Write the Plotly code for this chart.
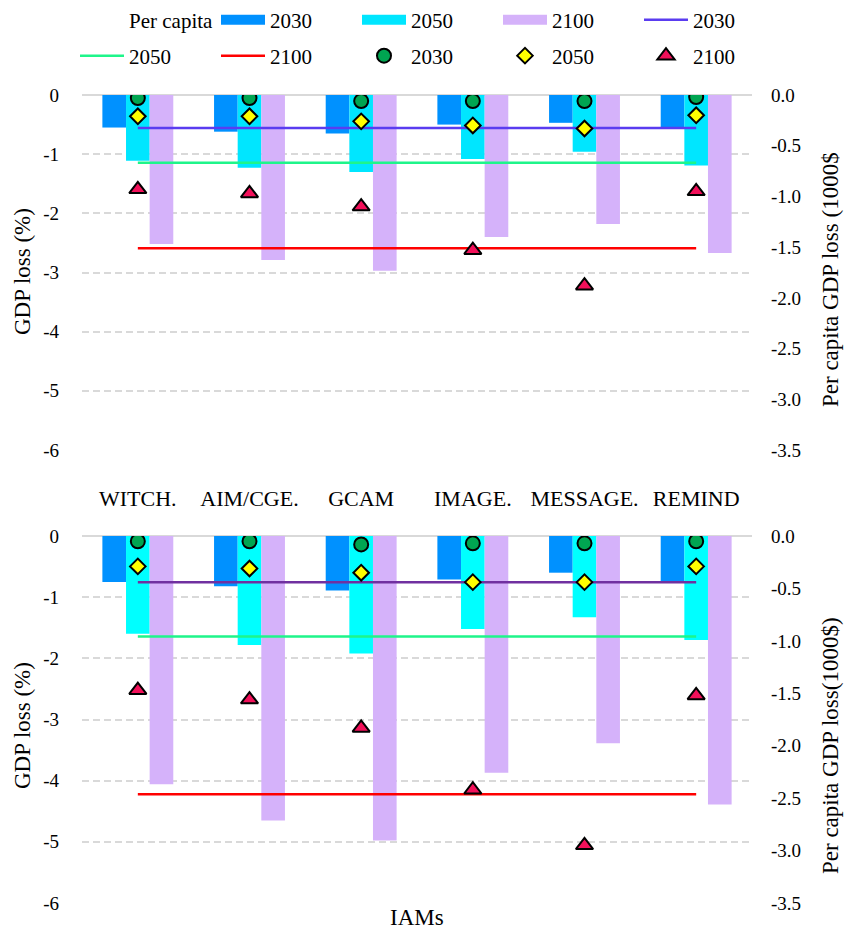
import numpy as np
import plotly.graph_objects as go

# ---------------- data ----------------
models = ["WITCH.", "AIM/CGE.", "GCAM", "IMAGE.", "MESSAGE.", "REMIND"]

# top panel: GDP loss (%)
top_gdp_2030 = [-0.55, -0.62, -0.65, -0.50, -0.47, -0.56]
top_gdp_2050 = [-1.11, -1.23, -1.30, -1.08, -0.96, -1.19]
top_gdp_2100 = [-2.52, -2.79, -2.97, -2.40, -2.18, -2.67]
# top panel: per capita GDP loss (1000$)
top_pc_2030 = [-0.03, -0.03, -0.06, -0.06, -0.06, -0.02]
top_pc_2050 = [-0.21, -0.21, -0.26, -0.30, -0.33, -0.20]
top_pc_2100 = [-0.93, -0.97, -1.10, -1.53, -1.88, -0.95]

# bottom panel
bot_gdp_2030 = [-0.75, -0.82, -0.89, -0.71, -0.60, -0.76]
bot_gdp_2050 = [-1.60, -1.78, -1.92, -1.52, -1.33, -1.70]
bot_gdp_2100 = [-4.06, -4.65, -4.98, -3.87, -3.39, -4.39]
bot_pc_2030 = [-0.05, -0.05, -0.08, -0.07, -0.07, -0.05]
bot_pc_2050 = [-0.29, -0.31, -0.35, -0.44, -0.44, -0.29]
bot_pc_2100 = [-1.47, -1.56, -1.83, -2.42, -2.95, -1.52]

left_ticks = [0, -1, -2, -3, -4, -5, -6]
right_ticks = [0.0, -0.5, -1.0, -1.5, -2.0, -2.5, -3.0, -3.5]
left_ticktext = [str(v) for v in left_ticks]
right_ticktext = [f"{v:.1f}" for v in right_ticks]

# ---------------- style ----------------
FONT = "Liberation Serif, Times New Roman, serif"
C_BAR30 = "#0091FF"
C_BAR50_TOP = "#00E6FF"
C_BAR50_BOT = "#00FFFF"
C_BAR100 = "#D5B2FA"
C_L30_TOP = "#5A3CF0"
C_L30_BOT = "#7030A0"
C_L50 = "#1EF58A"
C_L100 = "#FF0000"
C_CIRC = "#00A551"
C_DIAM = "#FFFF00"
C_TRI = "#F2105A"

fig = go.Figure()

# legend-only entries (row 1)
fig.add_trace(go.Scatter(x=[None], y=[None], mode="lines", name="Per capita",
                         line=dict(color="rgba(0,0,0,0)", width=1),
                         legend="legend", hoverinfo="skip"))
for nm, col, grp in [("2030", C_BAR30, "b30"), ("2050", C_BAR50_TOP, "b50"), ("2100", C_BAR100, "b100")]:
    fig.add_trace(go.Scatter(x=[None], y=[None], mode="lines", name=nm,
                             line=dict(color=col, width=10), legendgroup=grp,
                             legend="legend", hoverinfo="skip"))

def add_panel(xa, ya, ya2, g30, g50, g100, p30, p50, p100, c50, c30line, show):
    fig.add_trace(go.Bar(x=models, y=g30, marker=dict(color=C_BAR30, line=dict(width=0)),
                         name="2030", legendgroup="b30", showlegend=False, xaxis=xa, yaxis=ya))
    fig.add_trace(go.Bar(x=models, y=g50, marker=dict(color=c50, line=dict(width=0)),
                         name="2050", legendgroup="b50", showlegend=False, xaxis=xa, yaxis=ya))
    fig.add_trace(go.Bar(x=models, y=g100, marker=dict(color=C_BAR100, line=dict(width=0)),
                         name="2100", legendgroup="b100", showlegend=False, xaxis=xa, yaxis=ya))
    # mean lines
    fig.add_trace(go.Scatter(x=models, y=[np.mean(g30)] * len(models), mode="lines",
                             line=dict(color=c30line, width=2.5), name="2030",
                             legend="legend", legendgroup="l30", showlegend=show,
                             xaxis=xa, yaxis=ya))
    fig.add_trace(go.Scatter(x=models, y=[np.mean(g50)] * len(models), mode="lines",
                             line=dict(color=C_L50, width=2.5), name="2050",
                             legend="legend2", legendgroup="l50", showlegend=show,
                             xaxis=xa, yaxis=ya))
    fig.add_trace(go.Scatter(x=models, y=[np.mean(g100)] * len(models), mode="lines",
                             line=dict(color=C_L100, width=2.5), name="2100",
                             legend="legend2", legendgroup="l100", showlegend=show,
                             xaxis=xa, yaxis=ya))
    # per capita markers
    fig.add_trace(go.Scatter(x=models, y=p30, mode="markers", name="2030",
                             marker=dict(symbol="circle", size=14, color=C_CIRC,
                                         line=dict(color="black", width=2)),
                             legend="legend2", legendgroup="m30", showlegend=show,
                             xaxis=xa, yaxis=ya2))
    fig.add_trace(go.Scatter(x=models, y=p50, mode="markers", name="2050",
                             marker=dict(symbol="diamond", size=12, color=C_DIAM,
                                         line=dict(color="black", width=2)),
                             legend="legend2", legendgroup="m50", showlegend=show,
                             xaxis=xa, yaxis=ya2))
    fig.add_trace(go.Scatter(x=models, y=p100, mode="markers", name="2100",
                             marker=dict(symbol="triangle-up", size=15, color=C_TRI,
                                         line=dict(color="black", width=2)),
                             legend="legend2", legendgroup="m100", showlegend=show,
                             xaxis=xa, yaxis=ya2))

add_panel("x", "y", "y2", top_gdp_2030, top_gdp_2050, top_gdp_2100,
          top_pc_2030, top_pc_2050, top_pc_2100, C_BAR50_TOP, C_L30_TOP, True)
add_panel("x2", "y3", "y4", bot_gdp_2030, bot_gdp_2050, bot_gdp_2100,
          bot_pc_2030, bot_pc_2050, bot_pc_2100, C_BAR50_BOT, C_L30_BOT, False)

GRID = "#D9D9D9"
left_axis = dict(range=[-6, 0], tickvals=left_ticks, ticktext=left_ticktext,
                 showgrid=True, gridcolor=GRID, gridwidth=2, griddash="7px,4px",
                 zeroline=True, zerolinecolor=GRID, zerolinewidth=2,
                 showline=False, ticks="", ticklabelstandoff=22,
                 tickfont=dict(size=19, family=FONT, color="black"))
right_axis = dict(range=[-3.5, 0], tickvals=right_ticks, ticktext=right_ticktext,
                  side="right", showgrid=False, zeroline=False, showline=False,
                  ticks="", ticklabelstandoff=18,
                  tickfont=dict(size=19, family=FONT, color="black"))
x_axis = dict(type="category", range=[-0.5, 5.5], showgrid=False, zeroline=False,
              showline=False, ticks="", tickfont=dict(size=22, family=FONT, color="black"))

W, H = 845, 930
ML, MR, MT, MB = 82, 93, 95, 27
PW, PH = W - ML - MR, H - MT - MB

def py(px):
    return (H - MB - px) / PH

def px_x(px):
    return (px - ML) / PW

legend_common = dict(orientation="h", xanchor="left", yanchor="middle",
                     entrywidth=82, entrywidthmode="pixels", itemwidth=44,
                     font=dict(size=21, family=FONT, color="black"),
                     bgcolor="rgba(0,0,0,0)", borderwidth=0, traceorder="normal")

fig.update_layout(
    width=W, height=H,
    margin=dict(l=ML, r=MR, t=MT, b=MB, autoexpand=False),
    paper_bgcolor="white", plot_bgcolor="white",
    template="none",
    barmode="group", bargap=0.365, bargroupgap=0,
    font=dict(family=FONT, size=19, color="black"),
    showlegend=True,
    xaxis=dict(x_axis, anchor="y", domain=[0, 1], ticklabelstandoff=33),
    yaxis=dict(left_axis, anchor="x", domain=[py(450), 1]),
    yaxis2=dict(right_axis, anchor="x", overlaying="y"),
    xaxis2=dict(x_axis, anchor="y3", domain=[0, 1], showticklabels=False),
    yaxis3=dict(left_axis, anchor="x2", domain=[0, py(536)]),
    yaxis4=dict(right_axis, anchor="x2", overlaying="y3"),
    legend=dict(legend_common, x=px_x(75), y=py(20)),
    legend2=dict(legend_common, x=px_x(75), y=py(56)),
)

title_font = dict(size=23, family=FONT, color="black")
annos = [
    dict(text="GDP loss (%)", x=px_x(22), y=py(272), textangle=-90),
    dict(text="GDP loss (%)", x=px_x(22), y=py(726), textangle=-90),
    dict(text="Per capita GDP loss (1000$", x=px_x(830), y=py(280), textangle=-90),
    dict(text="Per capita GDP loss(1000$)", x=px_x(830), y=py(746), textangle=-90),
    dict(text="IAMs", x=0.5, y=py(918), textangle=0),
]
for a in annos:
    fig.add_annotation(xref="paper", yref="paper", showarrow=False,
                       xanchor="center", yanchor="middle", font=title_font, **a)

fig.write_html("out.html")
